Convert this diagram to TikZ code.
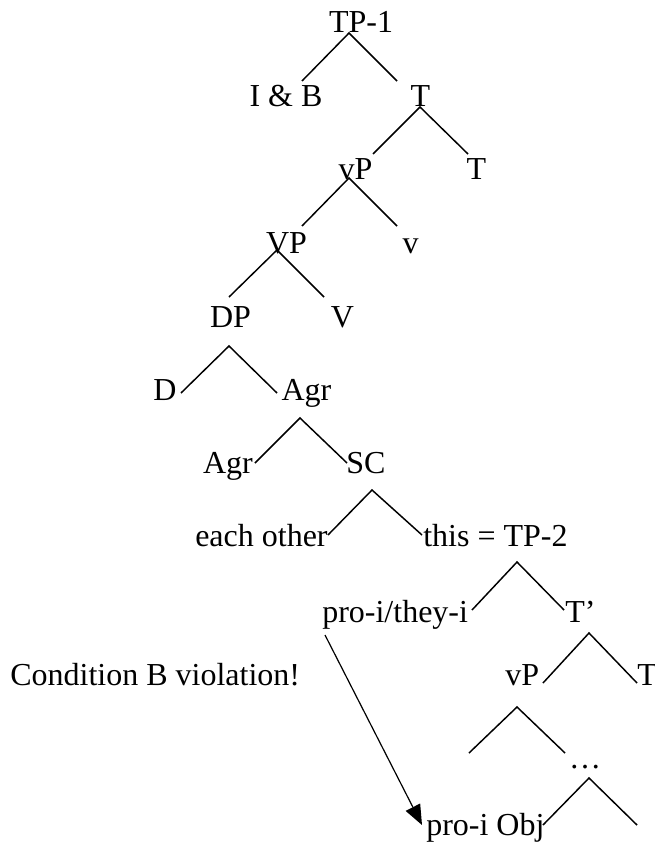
\documentclass[tikz,border=0pt]{standalone}
\usepackage{fontspec}
\setmainfont{Liberation Serif}
\usetikzlibrary{arrows.meta}
\tikzset{
  lbl/.style={anchor=base, inner sep=0pt, font=\fontsize{24}{28}\selectfont},
  lblw/.style={lbl, anchor=base west},
  branch/.style={line width=1.1pt},
  binding/.style={line width=0.9pt, -{Triangle[length=15pt,width=12pt]}}
}
\begin{document}
\begin{tikzpicture}[x=0.75pt, y=-0.75pt]
\useasboundingbox (0,0) rectangle (655,846);

% labels
\node[lbl] (tp1) at (361,32) {TP-1};
\node[lbl] (ib) at (286,106) {I \& B};
\node[lbl] (t1) at (420.5,106) {T};
\node[lbl] (vp1) at (355.5,179) {vP};
\node[lbl] (t2) at (476.5,179) {T};
\node[lbl] (vp) at (286.5,253) {VP};
\node[lbl] (vsmall) at (410.5,253) {v};
\node[lbl] (dp) at (230.5,327) {DP};
\node[lbl] (vbig) at (342.5,327) {V};
\node[lbl] (d) at (165,400) {D};
\node[lbl] (agr1) at (306.5,400) {Agr};
\node[lbl] (agr2) at (228,473) {Agr};
\node[lbl] (sc) at (366,473) {SC};
\node[lblw] (eo) at (195,546) {each other};
\node[lblw] (tp2) at (423,546) {this = TP-2};
\node[lblw] (pro) at (322,622) {pro-i/they-i};
\node[lblw] (tbar) at (565,622) {T’};
\node[lblw] (cond) at (10,685) {Condition B violation!};
\node[lblw] (vp2) at (505,685) {vP};
\node[lblw] (t3) at (637,685) {T};
\node[lbl] (dots) at (585,768) {…};
\node[lblw] (obj) at (426,835) {pro-i Obj};

% branch points
\coordinate (tp1b) at (349,33);  \coordinate (ibt) at (302,81);  \coordinate (t1t) at (397,81);
\coordinate (t1b) at (420,107);  \coordinate (vp1t) at (373,154); \coordinate (t2t) at (468,154);
\coordinate (vp1b) at (349,178); \coordinate (vpt) at (302,226);  \coordinate (vsmallt) at (397,226);
\coordinate (vpb) at (277,250);  \coordinate (dpt) at (229,297);  \coordinate (vbigt) at (324,297);
\coordinate (dpb) at (229,346);  \coordinate (dt) at (181,393);   \coordinate (agr1t) at (277,393);
\coordinate (agr1b) at (300,418); \coordinate (agr2t) at (255,463); \coordinate (sct) at (347,463);
\coordinate (scb) at (372,490);  \coordinate (eot) at (328,535);  \coordinate (tp2t) at (422,535);
\coordinate (tp2b) at (517,562); \coordinate (prot) at (472,610); \coordinate (tbart) at (564,610);
\coordinate (tbarb) at (589,633); \coordinate (vp2t) at (543,683); \coordinate (t3t) at (637,683);
\coordinate (vp2b) at (517,707); \coordinate (vp2l) at (469,753); \coordinate (dotst) at (565,753);
\coordinate (dotsb) at (589,778); \coordinate (objt) at (543,825); \coordinate (dotsr) at (637,825);

\draw[branch] (ibt) -- (tp1b) -- (t1t);
\draw[branch] (vp1t) -- (t1b) -- (t2t);
\draw[branch] (vpt) -- (vp1b) -- (vsmallt);
\draw[branch] (dpt) -- (vpb) -- (vbigt);
\draw[branch] (dt) -- (dpb) -- (agr1t);
\draw[branch] (agr2t) -- (agr1b) -- (sct);
\draw[branch] (eot) -- (scb) -- (tp2t);
\draw[branch] (prot) -- (tp2b) -- (tbart);
\draw[branch] (vp2t) -- (tbarb) -- (t3t);
\draw[branch] (vp2l) -- (vp2b) -- (dotst);
\draw[branch] (objt) -- (dotsb) -- (dotsr);

% binding arrow
\coordinate (prob) at (325,635);
\coordinate (objw) at (422,825);
\draw[binding] (prob) -- (objw);

\end{tikzpicture}
\end{document}
